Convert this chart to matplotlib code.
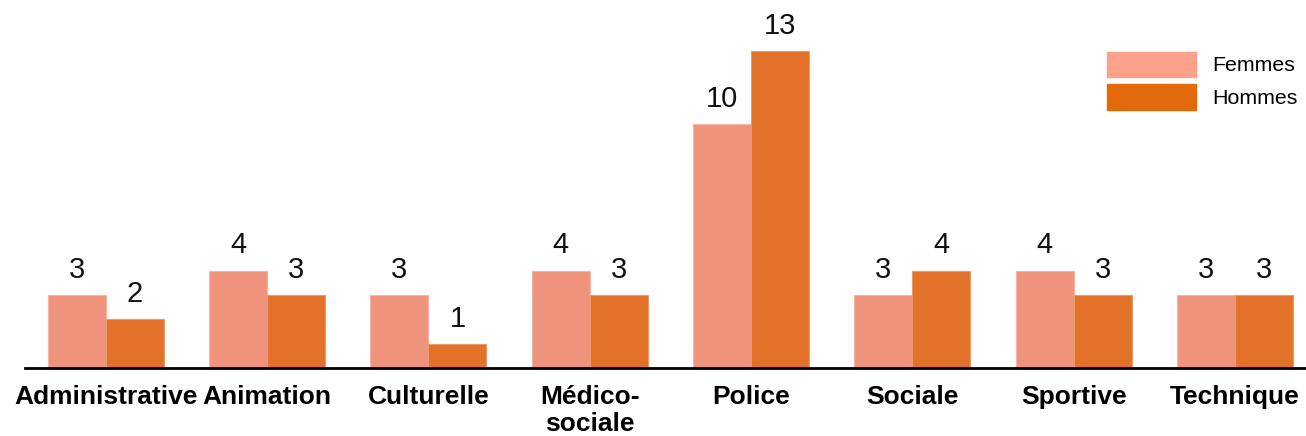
import matplotlib
matplotlib.use("Agg")
import matplotlib.pyplot as plt
import numpy as np

categories = ["Administrative", "Animation", "Culturelle", "Médico-\nsociale",
              "Police", "Sociale", "Sportive", "Technique"]
femmes = [3, 4, 3, 4, 10, 3, 4, 3]
hommes = [2, 3, 1, 3, 13, 4, 3, 3]

plt.rcParams['font.family'] = ['Liberation Sans', 'DejaVu Sans']

fig = plt.figure(figsize=(13.06, 4.36), dpi=100)
ax = fig.add_axes([25 / 1306, 0.156, 1 - 25 / 1306, 0.844])

x = np.arange(len(categories))
w = 0.36
b1 = ax.bar(x - w / 2, femmes, w, color="#F0937D", edgecolor="#F6B5A5", linewidth=0.8, label="Femmes")
b2 = ax.bar(x + w / 2, hommes, w, color="#E2712A", edgecolor="#EC9A6A", linewidth=0.8, label="Hommes")

# value on top of each bar
for bars, vals in [(b1, femmes), (b2, hommes)]:
    for r, v in zip(bars, vals):
        ax.annotate(str(v), (r.get_x() + r.get_width() / 2, v), xytext=(0, 8),
                    textcoords="offset points", ha="center", va="bottom",
                    fontsize=21, color="#111111")

ax.set_xlim(-0.5, 7.44)
ax.set_ylim(0, 15.1)
ax.set_xticks(x)
ax.set_xticklabels(categories, fontsize=19, fontweight="bold", linespacing=1.2)
ax.tick_params(axis="x", length=0, pad=12)
ax.set_yticks([])
for s in ["top", "right", "left"]:
    ax.spines[s].set_visible(False)
ax.spines["bottom"].set_linewidth(2)

handles = [plt.Rectangle((0, 0), 1, 1, color="#FFA08A"), plt.Rectangle((0, 0), 1, 1, color="#E36A0A")]
fig.legend(handles, ["Femmes", "Hommes"], loc="upper left", bbox_to_anchor=(1098 / 1306, 1 - 43 / 436),
           frameon=False, fontsize=15.4, handlelength=4.2, handleheight=1.45,
           labelspacing=0.35, handletextpad=0.75, borderaxespad=0)

fig.savefig("out.png", dpi=100)
